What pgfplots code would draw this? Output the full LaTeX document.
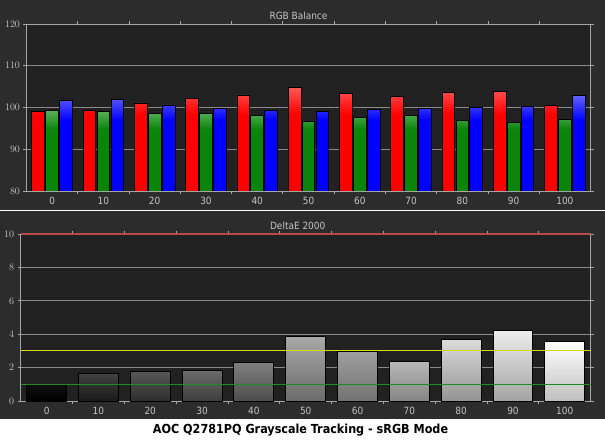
\documentclass[border=0pt]{standalone}
\usepackage{pgfplots}
\pgfplotsset{compat=1.18}
\usepackage{fontspec}
\setmainfont{DejaVu Sans Condensed}
\definecolor{panelbg}{HTML}{2C2C2C}
\definecolor{plotbg}{HTML}{212121}
\definecolor{gridc}{HTML}{8A8A8A}
\definecolor{axc}{HTML}{A6A6A6}
\definecolor{labc}{HTML}{C4C4C4}
\definecolor{reflred}{HTML}{B84A4A}
\definecolor{reflyel}{HTML}{DADA10}
\definecolor{reflgrn}{HTML}{1E8C1E}
\pgfdeclareverticalshading{redsh}{100bp}{rgb(0bp)=(1,0,0); rgb(62bp)=(1,0,0); rgb(75bp)=(1,0.34,0.34); rgb(100bp)=(1,0.34,0.34)}
\pgfdeclareverticalshading{greensh}{100bp}{rgb(0bp)=(0.04,0.52,0.04); rgb(63bp)=(0.04,0.52,0.04); rgb(75bp)=(0.36,0.70,0.36); rgb(100bp)=(0.36,0.70,0.36)}
\pgfdeclareverticalshading{bluesh}{100bp}{rgb(0bp)=(0,0,1); rgb(62bp)=(0,0,1); rgb(75bp)=(0.38,0.38,1); rgb(100bp)=(0.38,0.38,1)}
\pgfplotsset{
  common/.style={
    scale only axis, anchor=south west,
    axis background/.style={fill=plotbg},
    axis line style={axc, line width=0.8bp},
    tick style={axc, line width=0.8bp},
    tick align=outside,
    major tick length=3bp, minor tick length=3bp,
    ymajorgrids, grid style={gridc, line width=0.7bp},
    xmin=-0.5, xmax=10.5,
    xtick={0,...,10}, xticklabels={0,10,20,30,40,50,60,70,80,90,100},
    minor xtick={0.5,1.5,...,9.5},
    major x tick style={draw=none},
    ticklabel style={font=\fontsize{10}{11}\selectfont, text=labc},
    title style={font=\fontsize{10}{11}\selectfont, text=labc, yshift=-5bp},
  }
}
\begin{document}
\begin{tikzpicture}
\useasboundingbox (0,0) rectangle (605bp,441bp);
\fill[white] (0,0) rectangle (605bp,441bp);
\fill[panelbg] (0,231bp) rectangle (605bp,441bp);
\fill[panelbg] (0,22bp) rectangle (605bp,230bp);
\begin{axis}[common, at={(26.5bp,250bp)}, width=564bp, height=167bp,
  ymin=80, ymax=120, ytick={80,90,...,120},
  title={RGB Balance}, title style={xshift=-10bp}]
\addplot[ybar, bar width=0.248, bar shift=-0.271, draw=black, line width=0.8bp, shade, shading=redsh]
  coordinates {(0,99.0) (1,99.4) (2,101.1) (3,102.1) (4,103.0) (5,104.8) (6,103.3) (7,102.6) (8,103.6) (9,103.8) (10,100.5)};
\addplot[ybar, bar width=0.248, bar shift=0, draw=black, line width=0.8bp, shade, shading=greensh]
  coordinates {(0,99.4) (1,99.0) (2,98.5) (3,98.5) (4,98.1) (5,96.6) (6,97.6) (7,98.1) (8,96.9) (9,96.4) (10,97.1)};
\addplot[ybar, bar width=0.248, bar shift=0.271, draw=black, line width=0.8bp, shade, shading=bluesh]
  coordinates {(0,101.6) (1,101.9) (2,100.6) (3,99.8) (4,99.3) (5,99.0) (6,99.5) (7,99.8) (8,100.0) (9,100.2) (10,102.9)};
\end{axis}
\begin{axis}[common, at={(20.7bp,40bp)}, width=570bp, height=167bp,
  ymin=0, ymax=10, ytick={0,2,...,10}, clip=false,
  title={DeltaE 2000}, title style={xshift=-8bp}]
\pgfplotsset{gbar/.style={ybar, bar width=0.77, bar shift=0, draw=black, line width=1bp, shade}}
\addplot[gbar, top color=black!94, bottom color=black] coordinates {(0,0.95)};
\addplot[gbar, top color=black!75, bottom color=black!90] coordinates {(1,1.62)};
\addplot[gbar, top color=black!66, bottom color=black!82] coordinates {(2,1.76)};
\addplot[gbar, top color=black!58, bottom color=black!76] coordinates {(3,1.84)};
\addplot[gbar, top color=black!50, bottom color=black!70] coordinates {(4,2.32)};
\addplot[gbar, top color=black!34, bottom color=black!58] coordinates {(5,3.85)};
\addplot[gbar, top color=black!38, bottom color=black!55] coordinates {(6,2.95)};
\addplot[gbar, top color=black!28, bottom color=black!48] coordinates {(7,2.38)};
\addplot[gbar, top color=black!14, bottom color=black!42] coordinates {(8,3.69)};
\addplot[gbar, top color=black!7, bottom color=black!36] coordinates {(9,4.23)};
\addplot[gbar, top color=white, bottom color=black!25] coordinates {(10,3.57)};
\addplot[reflgrn, line width=1.5bp] coordinates {(-0.5,1) (10.5,1)};
\addplot[reflyel, line width=1bp] coordinates {(-0.5,3) (10.5,3)};
\addplot[reflred, line width=2.5bp] coordinates {(-0.5,10) (10.5,10)};
\end{axis}
\node[font=\fontsize{12.5}{14}\selectfont\bfseries, text=black] at (300.5bp,10.5bp) {AOC Q2781PQ Grayscale Tracking - sRGB Mode};
\end{tikzpicture}
\end{document}
